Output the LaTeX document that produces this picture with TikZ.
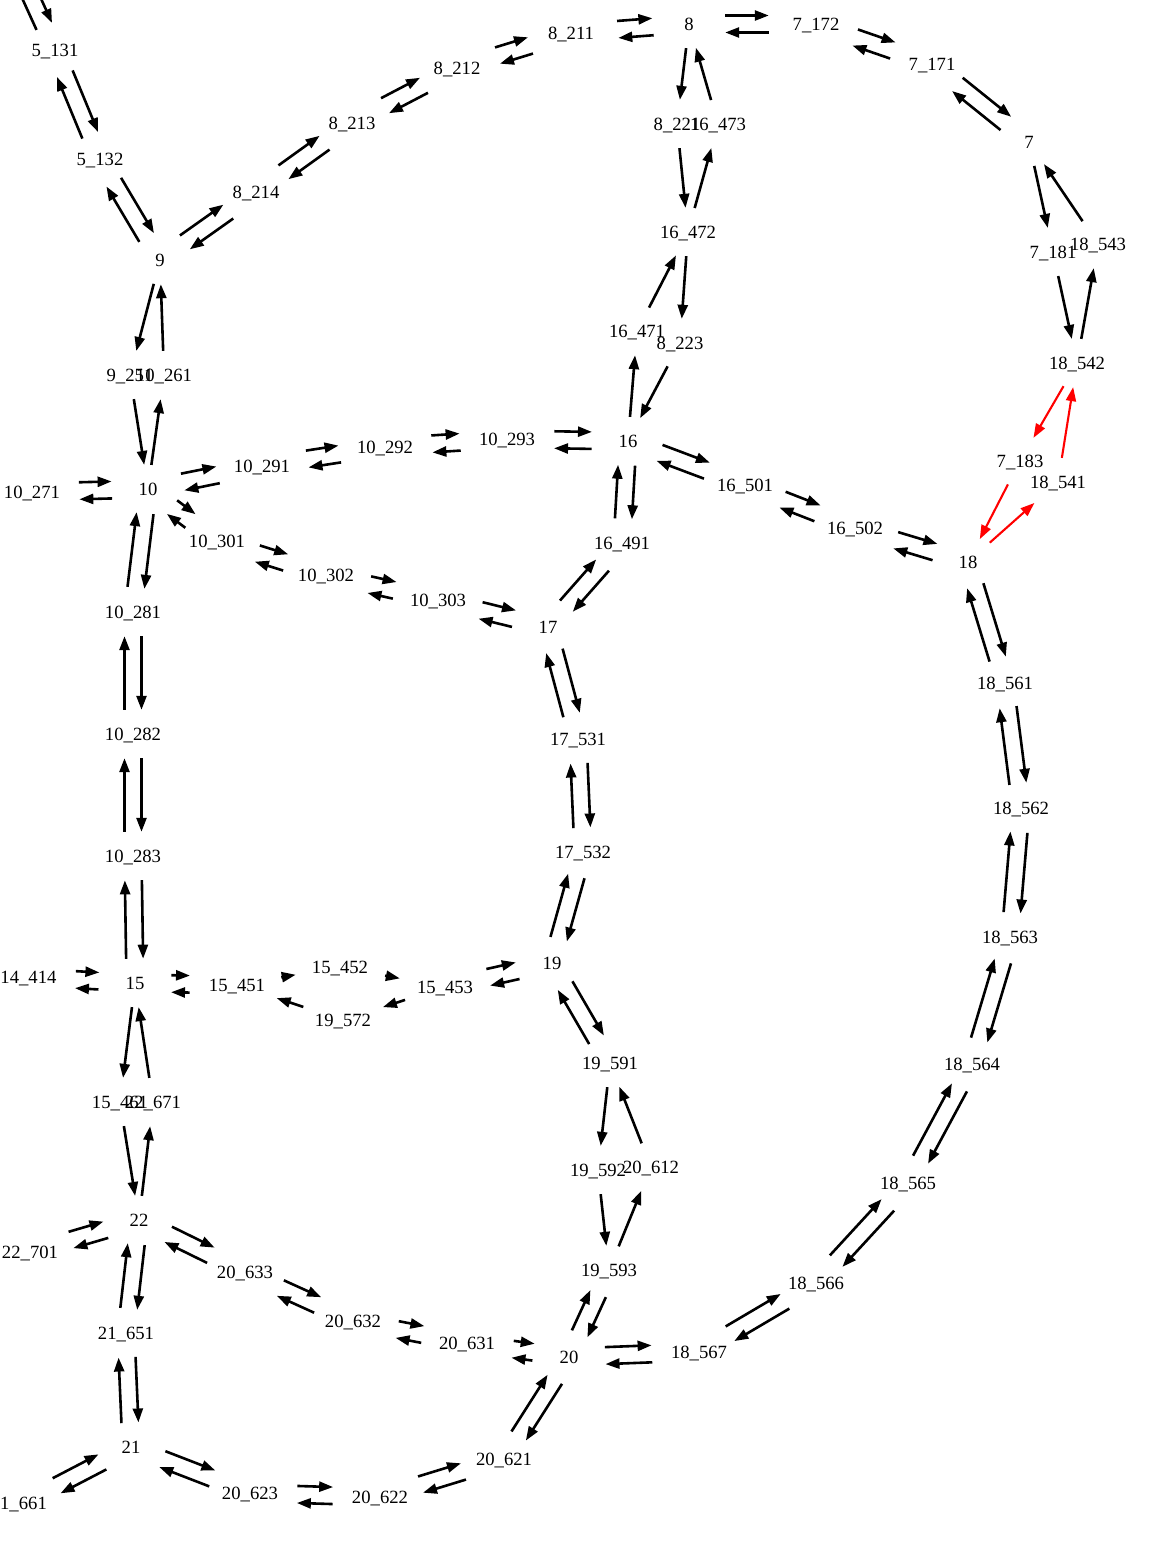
\documentclass[tikz,border=0pt]{standalone}
\usepackage{fontspec}
\setmainfont{Liberation Serif}
\usetikzlibrary{arrows.meta,shapes.geometric,calc}
\newcommand\edgoffs{8.5pt}
\newcommand\edg[3][]{%
  \pgfpointdiff{\pgfpointanchor{#2}{center}}{\pgfpointanchor{#3}{center}}%
  \pgfgetlastxy{\edgvx}{\edgvy}%
  \pgfmathparse{atan2(\edgvy,\edgvx)+90}\let\edgang\pgfmathresult
  \draw[arr,#1,transform canvas={shift={(\edgang:\edgoffs)}}] (#2) -- (#3);}
\newcommand\pair[3][]{\edg[#1]{#2}{#3}\edg[#1]{#3}{#2}}
\newcommand\one[3][]{\draw[arr,#1] (#2) -- (#3);}
\tikzset{
  nd/.style={ellipse, inner xsep=4pt, inner ysep=5.33pt, minimum width=94pt,
    minimum height=48pt, font=\fontsize{18.67}{22}\selectfont, text height=12.6pt, text depth=0pt},
  sht/.style={nd, minimum width=72pt},
  arr/.style={line width=2.6pt, -{Triangle[length=14pt,width=10pt]}},
  hot/.style={draw=red, fill=red, line width=2.1pt}
}
\begin{document}
\begin{tikzpicture}[x=1pt,y=-1pt]
\useasboundingbox (0,0) rectangle (1152,1560);
\clip (0,0) rectangle (1152,1560);
% off-page endpoints
\coordinate (top5) at (5,-60);
\coordinate (top8) at (693,-100);
% nodes
\node[nd] (n5131) at (55,50) {5\_131};
\node[nd] (n5132) at (100,159) {5\_132};
\node[sht] (n9) at (160,260) {9};
\node[nd] (n8214) at (256,192) {8\_214};
\node[nd] (n8213) at (352,123) {8\_213};
\node[nd] (n8212) at (457,68) {8\_212};
\node[nd] (n8211) at (571,33) {8\_211};
\node[sht] (n8) at (689,24) {8};
\node[nd] (n7172) at (816,24) {7\_172};
\node[nd] (n7171) at (932,64) {7\_171};
\node[sht] (n7) at (1029,142) {7};
\node[nd] (n7181) at (1053,252) {7\_181};
\node[nd] (n18543) at (1098,244) {18\_543};
\node[nd] (n18542) at (1077,363) {18\_542};
\node[nd] (n7183) at (1020,461) {7\_183};
\node[nd] (n18541) at (1058,482) {18\_541};
\node[sht] (n18) at (968,562) {18};
\node[nd] (n16502) at (855,528) {16\_502};
\node[nd] (n16501) at (745,485) {16\_501};
\node[sht] (n16) at (628,441) {16};
\node[nd] (n8221) at (677,124) {8\_221};
\node[nd] (n16473) at (718,124) {16\_473};
\node[nd] (n16472) at (688,232) {16\_472};
\node[nd] (n16471) at (637,331) {16\_471};
\node[nd] (n8223) at (680,343) {8\_223};
\node[nd] (n10293) at (507,439) {10\_293};
\node[nd] (n10292) at (385,447) {10\_292};
\node[nd] (n10291) at (262,466) {10\_291};
\node[sht] (n10) at (148,489) {10};
\node[nd] (n10271) at (32,492) {10\_271};
\node[nd] (n9251) at (130,375) {9\_251};
\node[nd] (n10261) at (164,375) {10\_261};
\node[nd] (n10301) at (217,541) {10\_301};
\node[nd] (n10302) at (326,575) {10\_302};
\node[nd] (n10303) at (438,600) {10\_303};
\node[sht] (n17) at (548,627) {17};
\node[nd] (n16491) at (622,543) {16\_491};
\node[nd] (n17531) at (578,739) {17\_531};
\node[nd] (n17532) at (583,852) {17\_532};
\node[sht] (n19) at (552,963) {19};
\node[nd] (n19591) at (610,1063) {19\_591};
\node[nd] (n19592) at (598,1170) {19\_592};
\node[nd] (n20612) at (651,1167) {20\_612};
\node[nd] (n19593) at (609,1270) {19\_593};
\node[sht] (n20) at (569,1357) {20};
\node[nd] (n18567) at (699,1352) {18\_567};
\node[nd] (n18566) at (816,1283) {18\_566};
\node[nd] (n18565) at (908,1183) {18\_565};
\node[nd] (n18564) at (972,1064) {18\_564};
\node[nd] (n18563) at (1010,937) {18\_563};
\node[nd] (n18562) at (1021,808) {18\_562};
\node[nd] (n18561) at (1005,683) {18\_561};
\node[nd] (n20631) at (467,1343) {20\_631};
\node[nd] (n20632) at (353,1321) {20\_632};
\node[nd] (n20633) at (245,1272) {20\_633};
\node[sht] (n22) at (139,1220) {22};
\node[nd] (n22701) at (30,1252) {22\_701};
\node[nd] (n21651) at (126,1333) {21\_651};
\node[sht] (n21) at (131,1447) {21};
\node[nd] (n21661) at (23.5,1503) {1\_661};
\node[nd] (n20623) at (250,1493) {20\_623};
\node[nd] (n20622) at (380,1497) {20\_622};
\node[nd] (n20621) at (504,1459) {20\_621};
\node[sht] (n15) at (135,983) {15};
\node[nd] (n14414) at (28.5,977) {14\_414};
\node[nd] (n15451) at (237,985) {15\_451};
\node[nd] (n15452) at (340,967) {15\_452};
\node[nd] (n15453) at (445,987) {15\_453};
\node[nd] (n19572) at (343,1020) {19\_572};
\node[nd] (n15461) at (120,1102) {15\_461};
\node[nd] (n22671) at (153,1102) {22\_671};
\node[nd] (n10281) at (133,612) {10\_281};
\node[nd] (n10282) at (133,734) {10\_282};
\node[nd] (n10283) at (133,856) {10\_283};
% edges
\pair{top5}{n5131}
\pair{n5131}{n5132}
\pair{n5132}{n9}
\pair{n9}{n8214}
\pair{n8214}{n8213}
\pair{n8213}{n8212}
\pair{n8212}{n8211}
\pair{n8211}{n8}
\pair{n8}{top8}
\pair{n8}{n7172}
\pair{n7172}{n7171}
\pair{n7171}{n7}
\one{n7}{n7181} \one{n18543}{n7}
\one{n7181}{n18542} \one{n18542}{n18543}
\one[hot]{n18542}{n7183} \one[hot]{n18541}{n18542}
\one[hot]{n7183}{n18} \one[hot]{n18}{n18541}
\one{n8}{n8221} \one{n16473}{n8}
\one{n8221}{n16472} \one{n16472}{n16473}
\one{n16472}{n8223} \one{n16471}{n16472}
\one{n8223}{n16} \one{n16}{n16471}
\one{n9}{n9251} \one{n10261}{n9}
\one{n9251}{n10} \one{n10}{n10261}
\pair{n10}{n10271}
\pair{n10}{n10291} \pair{n10291}{n10292} \pair{n10292}{n10293} \pair{n10293}{n16}
\pair{n10}{n10301} \pair{n10301}{n10302} \pair{n10302}{n10303} \pair{n10303}{n17}
\pair{n16}{n16501} \pair{n16501}{n16502} \pair{n16502}{n18}
\pair{n16}{n16491} \pair{n16491}{n17}
\pair{n17}{n17531} \pair{n17531}{n17532} \pair{n17532}{n19}
\pair{n18}{n18561} \pair{n18561}{n18562} \pair{n18562}{n18563} \pair{n18563}{n18564}
\pair{n18564}{n18565} \pair{n18565}{n18566} \pair{n18566}{n18567} \pair{n18567}{n20}
\pair{n10}{n10281} \pair{n10281}{n10282} \pair{n10282}{n10283} \pair{n10283}{n15}
\pair{n15}{n14414} \pair{n15}{n15451}
\draw[arr] ($(n15451)!0.43!(n15452)$) -- ($(n15451)!0.57!(n15452)$);
\draw[arr] ($(n15452)!0.43!(n15453)$) -- ($(n15452)!0.57!(n15453)$);
\one{n15453}{n19572} \one{n19572}{n15451}
\pair{n15453}{n19}
\one{n15}{n15461} \one{n22671}{n15}
\one{n15461}{n22} \one{n22}{n22671}
\pair{n22}{n22701}
\pair{n22}{n20633} \pair{n20633}{n20632} \pair{n20632}{n20631} \pair{n20631}{n20}
\pair{n22}{n21651} \pair{n21651}{n21}
\pair{n21}{n21661}
\pair{n21}{n20623} \pair{n20623}{n20622} \pair{n20622}{n20621} \pair{n20621}{n20}
\pair{n19}{n19591}
\one{n19591}{n19592} \one{n20612}{n19591}
\one{n19592}{n19593} \one{n19593}{n20612}
\pair{n19593}{n20}
\end{tikzpicture}
\end{document}
